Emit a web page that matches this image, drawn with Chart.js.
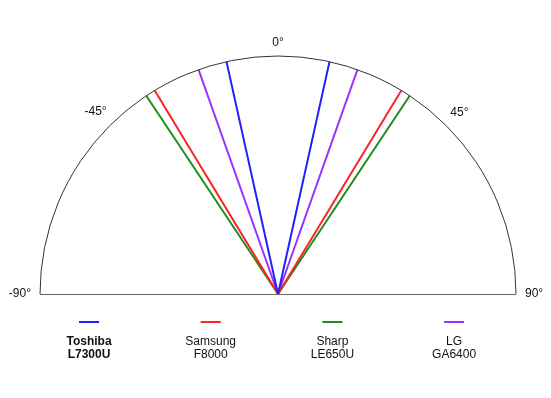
<!DOCTYPE html>
<html>
<head>
<meta charset="utf-8">
<script src="https://cdn.jsdelivr.net/npm/chart.js@4/dist/chart.umd.min.js"></script>
<style>
  html, body { margin: 0; padding: 0; background: #ffffff; }
  #wrap { width: 551px; height: 398px; position: relative; }
</style>
</head>
<body>
<div id="wrap"><canvas id="c" width="551" height="398"></canvas></div>
<script>
// ---- data ----
const brandNames = ['Toshiba', 'Samsung', 'Sharp', 'LG'];
const modelNames = ['L7300U', 'F8000', 'LE650U', 'GA6400'];
const halfAngles = [12.5, 31.2, 33.6, 19.5];   // degrees from vertical, each side
const seriesColors = ['#2020ff', '#ff2222', '#1f8c1f', '#9933ff'];
const tickAngles = [-90, -45, 0, 45, 90];
const tickLabels = ['-90°', '-45°', '0°', '45°', '90°'];

const FONT = '"Liberation Sans", Arial, Helvetica, sans-serif';
const rad = d => d * Math.PI / 180;

const datasets = brandNames.map((b, i) => {
  const a = rad(halfAngles[i]);
  return {
    label: b + ' ' + modelNames[i],
    data: [
      { x: -Math.sin(a), y: Math.cos(a) },
      { x: 0, y: 0 },
      { x: Math.sin(a), y: Math.cos(a) }
    ],
    borderColor: seriesColors[i],
    backgroundColor: seriesColors[i],
    borderWidth: 2,
    borderJoinStyle: 'bevel',
    showLine: true,
    pointRadius: 0,
    pointHoverRadius: 0,
    fill: false,
    tension: 0,
    clip: false
  };
});

const framePlugin = {
  id: 'frame',
  afterDatasetsDraw(chart) {
    const ctx = chart.ctx;
    const xs = chart.scales.x, ys = chart.scales.y;
    const cx = xs.getPixelForValue(0), cy = ys.getPixelForValue(0);
    const r = xs.getPixelForValue(1) - cx;
    ctx.save();
    // semicircle arc
    ctx.strokeStyle = '#333333';
    ctx.lineWidth = 1;
    ctx.beginPath();
    ctx.arc(cx, cy, r, Math.PI, 2 * Math.PI);
    ctx.stroke();
    // baseline
    ctx.strokeStyle = '#666666';
    ctx.beginPath();
    ctx.moveTo(cx - r, cy + 0.5);
    ctx.lineTo(cx + r, cy + 0.5);
    ctx.stroke();
    // angle labels
    ctx.fillStyle = '#111111';
    ctx.font = '12px ' + FONT;
    ctx.textAlign = 'center';
    ctx.textBaseline = 'middle';
    tickAngles.forEach((t, i) => {
      const a = rad(t);
      const w = ctx.measureText(tickLabels[i]).width / 2;
      const h = 4.5;
      const d = r + 9 + w * Math.abs(Math.sin(a)) + h * Math.abs(Math.cos(a));
      ctx.fillText(tickLabels[i], cx + d * Math.sin(a), cy - d * Math.cos(a));
    });
    // legend
    const lx0 = 89, lstep = 121.7;
    brandNames.forEach((b, i) => {
      const x = lx0 + i * lstep;
      ctx.strokeStyle = seriesColors[i];
      ctx.lineWidth = 2;
      ctx.beginPath();
      ctx.moveTo(x - 10, 322);
      ctx.lineTo(x + 10, 322);
      ctx.stroke();
      ctx.fillStyle = '#111111';
      ctx.textBaseline = 'alphabetic';
      ctx.font = (i === 0 ? 'bold ' : '') + '12px ' + FONT;
      ctx.fillText(b, x, 344.5);
      ctx.fillText(modelNames[i], x, 357.5);
    });
    ctx.restore();
  }
};

new Chart(document.getElementById('c'), {
  type: 'scatter',
  data: { datasets },
  options: {
    responsive: false,
    animation: false,
    devicePixelRatio: 1,
    layout: { padding: { left: 40, right: 35, top: 56, bottom: 104 } },
    scales: {
      x: { type: 'linear', min: -1, max: 1, display: false },
      y: { type: 'linear', min: 0, max: 1, display: false }
    },
    plugins: {
      legend: { display: false },
      tooltip: { enabled: false }
    },
    events: []
  },
  plugins: [framePlugin]
});
</script>
</body>
</html>
